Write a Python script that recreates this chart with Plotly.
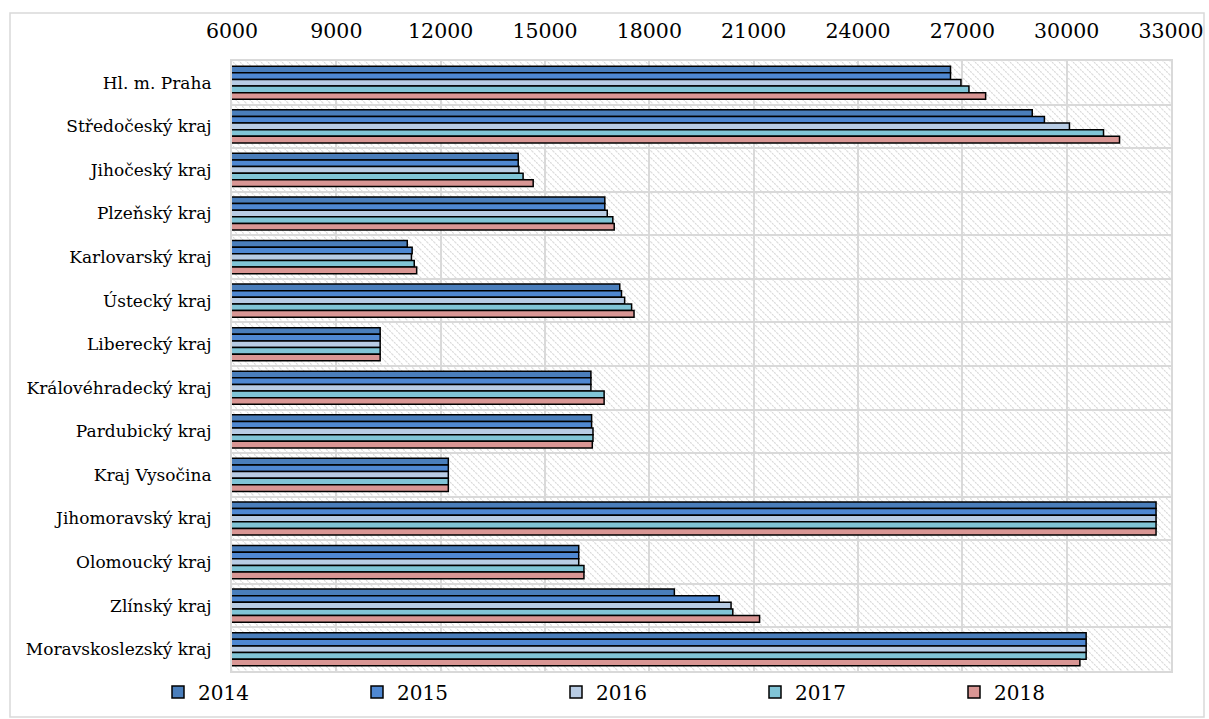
import base64
import plotly.graph_objects as go

categories = ["Hl. m. Praha", "Středočeský kraj", "Jihočeský kraj", "Plzeňský kraj",
              "Karlovarský kraj", "Ústecký kraj", "Liberecký kraj", "Královéhradecký kraj",
              "Pardubický kraj", "Kraj Vysočina", "Jihomoravský kraj", "Olomoucký kraj",
              "Zlínský kraj", "Moravskoslezský kraj"]
years = ["2014", "2015", "2016", "2017", "2018"]
y2014 = [26660, 29010, 14230, 16720, 11040, 17150, 10260, 16320, 16340, 12220, 32570, 15970, 18720, 30560]
y2015 = [26660, 29360, 14230, 16720, 11180, 17200, 10260, 16320, 16340, 12220, 32570, 15970, 20010, 30560]
y2016 = [26960, 30080, 14250, 16790, 11160, 17290, 10260, 16320, 16380, 12220, 32570, 15970, 20350, 30560]
y2017 = [27190, 31060, 14370, 16950, 11240, 17490, 10260, 16700, 16380, 12220, 32570, 16120, 20400, 30560]
y2018 = [27670, 31520, 14660, 16990, 11310, 17560, 10260, 16700, 16360, 12220, 32570, 16120, 21170, 30380]
series = [y2014, y2015, y2016, y2017, y2018]
colors = ["#4A7EBB", "#4F88D2", "#B8CCE4", "#80C4D6", "#D99694"]
x_ticks = [6000, 9000, 12000, 15000, 18000, 21000, 24000, 27000, 30000, 33000]

FONT = "DejaVu Serif"
W, H = 1209, 719
ML, MR, MT, MB = 232, 38, 61, 48
PW, PH = W - ML - MR, H - MT - MB

ypos = list(range(len(categories)))

fig = go.Figure()
legend_names = ["legend2", "legend3", "legend4", "legend5", "legend6"]
for name, vals, col, lg in zip(years, series, colors, legend_names):
    fig.add_trace(go.Bar(
        x=vals, y=ypos, name=name, orientation="h", legend=lg, showlegend=True,
        marker=dict(color=col, line=dict(color="#000000", width=1.5)),
    ))

# hatch background for plot area
svg = (
    f'<svg xmlns="http://www.w3.org/2000/svg" width="{PW}" height="{PH}">'
    '<defs><pattern id="p" patternUnits="userSpaceOnUse" width="7" height="7">'
    '<rect width="7" height="7" fill="#ffffff"/>'
    '<path d="M-1,-1 L8,8 M-1,6 L1,8 M6,-1 L8,1" stroke="#d8d8d8" stroke-width="1.1" '
    'stroke-dasharray="2,1"/>'
    '</pattern></defs>'
    f'<rect width="{PW}" height="{PH}" fill="url(#p)"/></svg>'
)
src = "data:image/svg+xml;base64," + base64.b64encode(svg.encode()).decode()

grid = "#d9d9d9"
n = len(categories)

legend_y = -(692 - (H - MB)) / PH
legend_lefts = [158, 357, 556, 755, 954]
legends = {}
for lg, left in zip(legend_names, legend_lefts):
    legends[lg] = dict(orientation="h", x=(left - ML) / PW, xanchor="left",
                       y=legend_y, yanchor="middle", itemwidth=30,
                       font=dict(size=20, family=FONT), bgcolor="rgba(0,0,0,0)")

fig.update_layout(
    width=W, height=H, showlegend=True,
    margin=dict(l=ML, r=MR, t=MT, b=MB, autoexpand=False),
    paper_bgcolor="#ffffff", plot_bgcolor="rgba(0,0,0,0)",
    barmode="group", bargap=0.24, bargroupgap=0,
    font=dict(family=FONT, color="#000000"),
    images=[dict(source=src, xref="paper", yref="paper", x=0, y=1, sizex=1, sizey=1,
                 sizing="stretch", xanchor="left", yanchor="top", layer="below")],
    xaxis=dict(side="top", range=[x_ticks[0], x_ticks[-1]], tickvals=x_ticks, tickformat="d",
               showgrid=True, gridcolor=grid, gridwidth=2, zeroline=False,
               showline=True, linecolor=grid, linewidth=2, mirror=True, automargin=False,
               ticks="", ticklabelstandoff=13, tickfont=dict(size=20.5, family=FONT)),
    yaxis=dict(range=[n - 0.5, -0.5], tickvals=ypos, ticktext=categories,
               showgrid=False, zeroline=False, automargin=False,
               showline=True, linecolor=grid, linewidth=2, mirror=True,
               minor=dict(tickvals=[i - 0.5 for i in range(n + 1)], showgrid=True,
                          gridcolor=grid, gridwidth=2),
               ticks="", ticklabelstandoff=15, tickfont=dict(size=17, family=FONT)),
    shapes=[dict(type="rect", xref="paper", yref="paper",
                 x0=(10 - ML) / PW, x1=(1204 - ML) / PW,
                 y0=-(717 - (H - MB)) / PH, y1=1 + (MT - 13) / PH,
                 line=dict(color="#d9d9d9", width=1.5), layer="below")],
    **legends,
)

fig.write_html("out.html", config={"displayModeBar": False},
               post_script="document.body.style.margin='0px';document.body.style.overflow='hidden';")
